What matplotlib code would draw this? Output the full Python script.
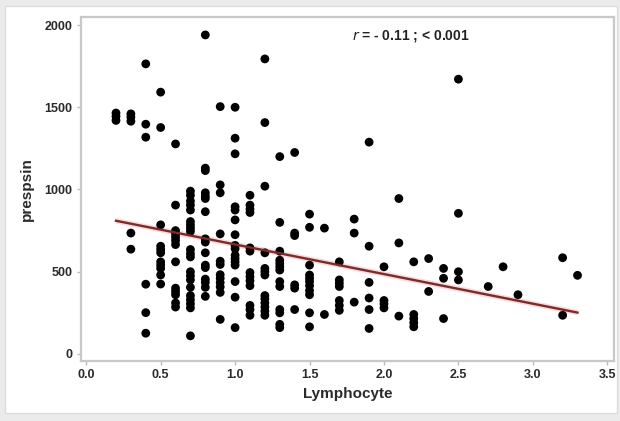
import numpy as np
import matplotlib
matplotlib.use("Agg")
import matplotlib.pyplot as plt
from matplotlib.patches import Rectangle

plt.rcParams['font.family'] = ['Liberation Sans', 'DejaVu Sans']

# Lymphocyte levels (x) and the prespsin readings observed at each level (y)
lymph_levels = [0.2, 0.3, 0.4, 0.5, 0.6, 0.7, 0.8, 0.9, 1.0, 1.1, 1.2, 1.3, 1.4,
                1.5, 1.6, 1.7, 1.8, 1.9, 2.0, 2.1, 2.2, 2.3, 2.4, 2.5, 2.7, 2.8,
                2.9, 3.2, 3.3]
prespsin_by_level = [
    [1465, 1445, 1420],
    [1460, 1440, 1415, 735, 637],
    [1764, 1397, 1318, 424, 251, 126],
    [1592, 1377, 785, 655, 635, 615, 560, 540, 520, 480, 425],
    [1277, 905, 750, 730, 710, 690, 665, 560, 400, 380, 360, 310, 285],
    [990, 965, 930, 905, 875, 805, 785, 765, 745, 635, 610, 590, 500, 475,
     450, 405, 355, 330, 305, 280, 110],
    [1940, 1130, 1115, 980, 960, 945, 865, 700, 680, 615, 540, 525, 455, 435,
     405, 350],
    [1504, 1028, 980, 730, 564, 544, 482, 460, 434, 408, 374, 210],
    [1500, 1312, 1217, 895, 875, 815, 725, 660, 640, 600, 580, 560, 540, 440,
     345, 160],
    [965, 905, 880, 860, 645, 625, 495, 470, 445, 415, 295, 270, 235],
    [1794, 1407, 1020, 615, 520, 500, 480, 355, 335, 310, 285, 260, 235],
    [1200, 800, 625, 570, 550, 530, 510, 440, 410, 270, 250, 180, 160],
    [1225, 735, 720, 420, 400, 270],
    [850, 770, 540, 480, 460, 440, 415, 385, 360, 250, 165],
    [765, 240],
    [560, 450, 430, 410, 325, 295, 265],
    [820, 735, 315],
    [1288, 655, 435, 340, 270, 155],
    [530, 325, 305, 280],
    [945, 675, 230],
    [560, 240, 215, 190, 165],
    [580, 380],
    [520, 460, 215],
    [1671, 855, 500, 450],
    [410],
    [530],
    [360],
    [585, 235],
    [478],
]

x_ticks = [0.0, 0.5, 1.0, 1.5, 2.0, 2.5, 3.0, 3.5]
y_ticks = [0, 500, 1000, 1500, 2000]
annotation = r"$\mathit{r}$ = - 0.11 ; < 0.001"

lymphocyte = np.concatenate([[lv] * len(vals) for lv, vals in zip(lymph_levels, prespsin_by_level)])
prespsin = np.concatenate([np.asarray(v, dtype=float) for v in prespsin_by_level])

W, H, DPI = 620, 421, 100
fig = plt.figure(figsize=(W / DPI, H / DPI), dpi=DPI)
fig.patch.set_facecolor('#ebebeb')
fig.add_artist(Rectangle((5 / W, 1 - 413 / H), 612 / W, 407 / H,
                         transform=fig.transFigure, facecolor='white',
                         edgecolor='#dcdcdc', lw=1.0, zorder=0))

ax = fig.add_axes([81 / W, 1 - 361 / H, (614 - 81) / W, (361 - 17) / H])
ax.set_facecolor('white')

ax.scatter(lymphocyte, prespsin, s=40, color='black', edgecolors='none', zorder=3)

# least-squares fit over the observed lymphocyte range
slope, intercept = np.polyfit(lymphocyte, prespsin, 1)
xs = np.array([lymphocyte.min(), lymphocyte.max()])
ax.plot(xs, intercept + slope * xs, color='#f4c6c6', lw=4.0, alpha=0.6, zorder=2,
        solid_capstyle='butt')
ax.plot(xs, intercept + slope * xs, color='#7d2a2a', lw=1.7, zorder=4)

ax.set_xlim(-0.035, 3.545)
ax.set_ylim(-43, 2049)
ax.set_xticks(x_ticks)
ax.set_xticklabels([f"{t:.1f}" for t in x_ticks])
ax.set_yticks(y_ticks)
ax.set_yticklabels([str(t) for t in y_ticks])

for sp in ax.spines.values():
    sp.set_color('#c8c8c8')
    sp.set_linewidth(1.6)

ax.tick_params(axis='both', direction='out', length=3, width=1.0, color='#bbbbbb',
               labelsize=9, labelcolor='#2a2a2a', pad=3)
for lab in ax.get_xticklabels() + ax.get_yticklabels():
    lab.set_fontweight('bold')

ax.set_xlabel('Lymphocyte', fontsize=11, fontweight='bold', color='#2a2a2a', labelpad=4)
ax.set_ylabel('prespsin', fontsize=11, fontweight='bold', color='#2a2a2a', labelpad=8)

ax.text(2.18, 1935, annotation, ha='center', va='center', fontsize=10,
        fontweight='bold', color='#222222')

fig.savefig('out.png', dpi=DPI, facecolor=fig.get_facecolor())
